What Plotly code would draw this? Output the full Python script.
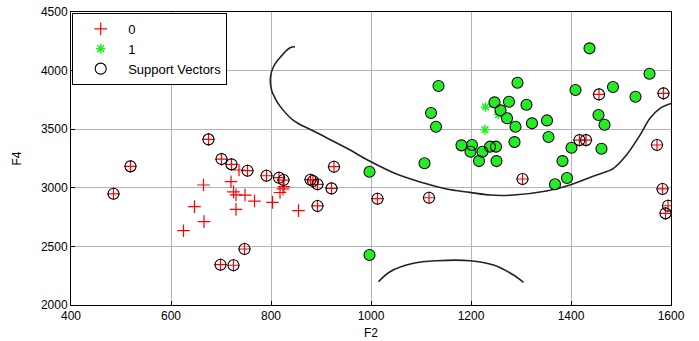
import plotly.graph_objects as go

# Class 0 (red +)
red_sv_x = [1456, 1585, 1417, 1430, 1572, 1303, 1583, 1594, 1589, 1116, 1013, 926, 921, 893, 893, 879, 884,
            791, 816, 825, 675, 701, 721, 753, 485, 519, 747, 699, 725]
red_sv_y = [3797, 3806, 3407, 3407, 3365, 3075, 2990, 2847, 2782, 2915, 2907, 3180, 2995, 2845, 3030, 3069, 3058,
            3103, 3086, 3066, 3413, 3245, 3200, 3146, 2949, 3183, 2478, 2344, 2339]
red_x = [803, 855, 824, 818, 826, 736, 665, 720, 725, 730, 748, 767, 647, 730, 625, 666]
red_y = [2876, 2805, 2990, 2960, 3010, 3152, 3024, 3052, 2965, 2940, 2938, 2887, 2839, 2816, 2634, 2711]

# Class 1 (green *)
green_sv_x = [1437, 1557, 1135, 1293, 1409, 1484, 1529, 1247, 1276, 1311, 1259, 1120, 1272, 1455, 1322, 1352,
              1289, 1467, 1130, 1355, 1287, 1181, 1202, 1238, 1250, 1199, 1223, 1401, 1461, 1216, 1251, 1383,
              1107, 1392, 1368, 997, 997]
green_sv_y = [4190, 3973, 3868, 3896, 3834, 3860, 3777, 3729, 3734, 3709, 3661, 3638, 3593, 3621, 3550, 3575,
              3521, 3538, 3521, 3433, 3390, 3362, 3365, 3351, 3351, 3308, 3308, 3342, 3333, 3228, 3228, 3228,
              3209, 3083, 3030, 3137, 2426]
green_x = [1229, 1255, 1228]
green_y = [3690, 3625, 3495]

# Decision boundary contours
bnd1_x = [848, 838, 818, 805, 799, 801, 808, 818, 844, 885, 951, 997, 1051, 1105, 1151, 1198, 1238, 1285,
          1351, 1398, 1451, 1485, 1511, 1538, 1558, 1578, 1600]
bnd1_y = [4203, 4195, 4111, 4033, 3947, 3834, 3766, 3697, 3578, 3484, 3339, 3228, 3117, 3041, 2989, 2961,
          2938, 2938, 2972, 3024, 3109, 3166, 3280, 3450, 3593, 3678, 3720]
bnd2_x = [1015, 1038, 1085, 1131, 1198, 1245, 1285, 1305]
bnd2_y = [2199, 2284, 2356, 2378, 2378, 2341, 2256, 2194]

x_ticks = [400, 600, 800, 1000, 1200, 1400, 1600]
y_ticks = [2000, 2500, 3000, 3500, 4000, 4500]

FONT = "Liberation Sans, Arial, sans-serif"
GREEN = "#22ee22"

fig = go.Figure()

for bx, by in [(bnd1_x, bnd1_y), (bnd2_x, bnd2_y)]:
    fig.add_trace(go.Scatter(x=bx, y=by, mode="lines", line=dict(color="#222222", width=1.6, shape="spline"),
                             showlegend=False, hoverinfo="skip"))

# green SV fill
fig.add_trace(go.Scatter(x=green_sv_x, y=green_sv_y, mode="markers", showlegend=False,
                         marker=dict(symbol="circle", size=10, color=GREEN, line=dict(width=0))))

fig.add_trace(go.Scatter(x=red_x + red_sv_x, y=red_y + red_sv_y, mode="markers", name="0",
                         marker=dict(symbol="cross-thin-open", size=9, color="red",
                                     line=dict(color="red", width=1.2))))
fig.add_trace(go.Scatter(x=green_x + green_sv_x, y=green_y + green_sv_y, mode="markers", name="1",
                         marker=dict(symbol="asterisk-open", size=8, color=GREEN,
                                     line=dict(color=GREEN, width=1.5))))
fig.add_trace(go.Scatter(x=red_sv_x + green_sv_x, y=red_sv_y + green_sv_y, mode="markers",
                         name="Support Vectors",
                         marker=dict(symbol="circle-open", size=11, color="black",
                                     line=dict(color="black", width=1.1))))

axis_common = dict(showgrid=True, gridcolor="#b4b4b4", gridwidth=1, showline=True, linecolor="black",
                   linewidth=1, mirror=True, ticks="inside", ticklen=4, tickcolor="black",
                   zeroline=False, automargin=False, tickfont=dict(family=FONT, size=12, color="black"))

fig.update_layout(
    width=699, height=341,
    margin=dict(l=71, r=28, t=12, b=36),
    paper_bgcolor="white", plot_bgcolor="white",
    xaxis=dict(range=[400, 1600], tickvals=x_ticks, title=dict(text="F2", standoff=6,
               font=dict(family=FONT, size=12, color="black")), **axis_common),
    yaxis=dict(range=[2000, 4500], tickvals=y_ticks, title=dict(text="F4", standoff=16,
               font=dict(family=FONT, size=12, color="black")), **axis_common),
    legend=dict(x=0.002, y=0.997, xanchor="left", yanchor="top", bgcolor="white",
                bordercolor="black", borderwidth=1, font=dict(family=FONT, size=13, color="black"),
                tracegroupgap=0, itemwidth=45),
    showlegend=True,
)

fig.write_html("out.html")
